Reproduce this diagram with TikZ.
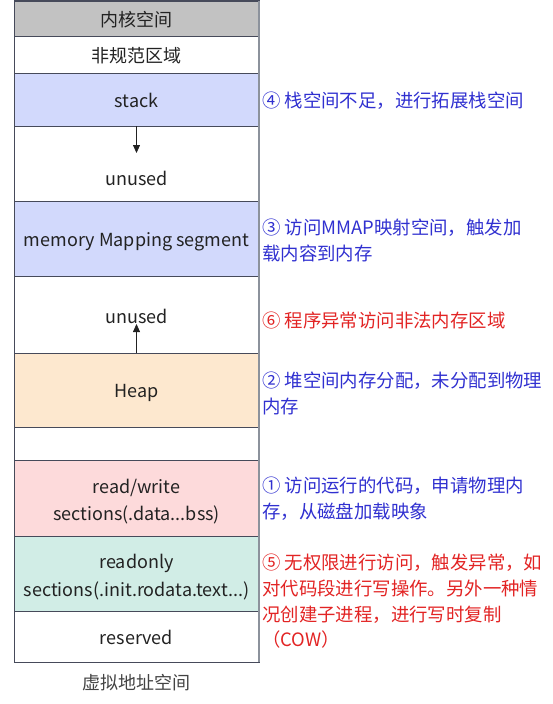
\documentclass[tikz,border=0pt]{standalone}
\usepackage{fontspec}
\setmainfont{Noto Sans CJK SC}
\usetikzlibrary{arrows.meta}
\definecolor{segline}{RGB}{70,74,90}
\definecolor{edgegray}{RGB}{140,146,156}
\definecolor{segtext}{RGB}{34,34,34}
\definecolor{kernelgray}{RGB}{194,194,194}
\definecolor{stackblue}{RGB}{210,217,252}
\definecolor{heaporange}{RGB}{253,232,207}
\definecolor{rwpink}{RGB}{253,218,219}
\definecolor{rogreen}{RGB}{209,237,230}
\definecolor{noteblue}{RGB}{48,48,208}
\definecolor{notered}{RGB}{226,36,36}
\begin{document}
\begin{tikzpicture}[x=1pt, y=-1pt,
  seg/.style={draw=segline, line width=1pt, minimum width=245pt, inner sep=0pt, outer sep=0pt, text=segtext, align=center},
  segone/.style={seg, text height=18pt, text depth=3pt},
  lbl/.style={inner sep=0pt, text=segtext, align=center},
  note/.style={anchor=north west, inner sep=0pt, align=left, font=\fontsize{18.4}{25.7}\selectfont},
  growarrow/.style={-{Triangle[length=8pt,width=7pt]}, line width=0.8pt, draw=segtext},
  every node/.append style={font=\fontsize{18}{25.7}\selectfont}]
\useasboundingbox (0,0) rectangle (553,704);
% segments of the address space
\node[segone, fill=kernelgray, minimum height=35.5pt] (seg0) at (136.5,18.75){内核空间};
\node[segone, minimum height=36.5pt] (seg1) at (136.5,54.75){非规范区域};
\node[segone, fill=stackblue, minimum height=53pt] (stack) at (136.5,99.5){stack};
\node[seg, minimum height=75pt] (free1) at (136.5,163.5){};
\node[segone, fill=stackblue, minimum height=75pt] (mmap) at (136.5,238.5){memory Mapping segment};
\node[seg, minimum height=77pt] (free2) at (136.5,314.5){};
\node[segone, fill=heaporange, minimum height=74pt] (heap) at (136.5,390){Heap};
\node[seg, minimum height=33pt] (gap) at (136.5,443.5){};
\node[seg, fill=rwpink, minimum height=76pt] (rw) at (136.5,498){};
\node[seg, fill=rogreen, minimum height=75pt] (ro) at (136.5,573.5){};
\node[segone, minimum height=51pt] (reserved) at (136.5,636.5){reserved};
\draw[edgegray, line width=1.6pt] (seg0.north east) -- (reserved.south east);
% two-line section texts
\node[lbl] (rwtext) at (136.5,501.5){read/write\\[2pt]sections(.data...bss)};
\node[lbl] (rotext) at (136.5,577){readonly\\[2pt]sections(.init.rodata.text...)};
% unused areas and growth
\node[lbl] (unused1) at (136.5,178){unused};
\node[lbl] (unused2) at (136.5,316){unused};
\coordinate (stackend) at (136.5,153);
\coordinate (heapend) at (136.5,324);
\draw[growarrow] (stack.south) -- (stackend);
\draw[growarrow] (heap.north) -- (heapend);
\node[lbl, text=segtext!85] (vas) at (136.5,683){虚拟地址空间};
% notes
\node[note, text=noteblue] (note4) at (262,92){④ 栈空间不足，进行拓展栈空间};
\node[note, text=noteblue] (note3) at (262,219){③ 访问MMAP映射空间，触发加\\载内容到内存};
\node[note, text=notered] (note6) at (262,312){⑥ 程序异常访问非法内存区域};
\node[note, text=noteblue] (note2) at (262,372){② 堆空间内存分配，未分配到物理\\内存};
\node[note, text=noteblue] (note1) at (262,477){① 访问运行的代码，申请物理内\\存，从磁盘加载映象};
\node[note, text=notered] (note5) at (262,554){⑤ 无权限进行访问，触发异常，如\\对代码段进行写操作。另外一种情\\况创建子进程，进行写时复制\\（COW）};
\end{tikzpicture}
\end{document}
